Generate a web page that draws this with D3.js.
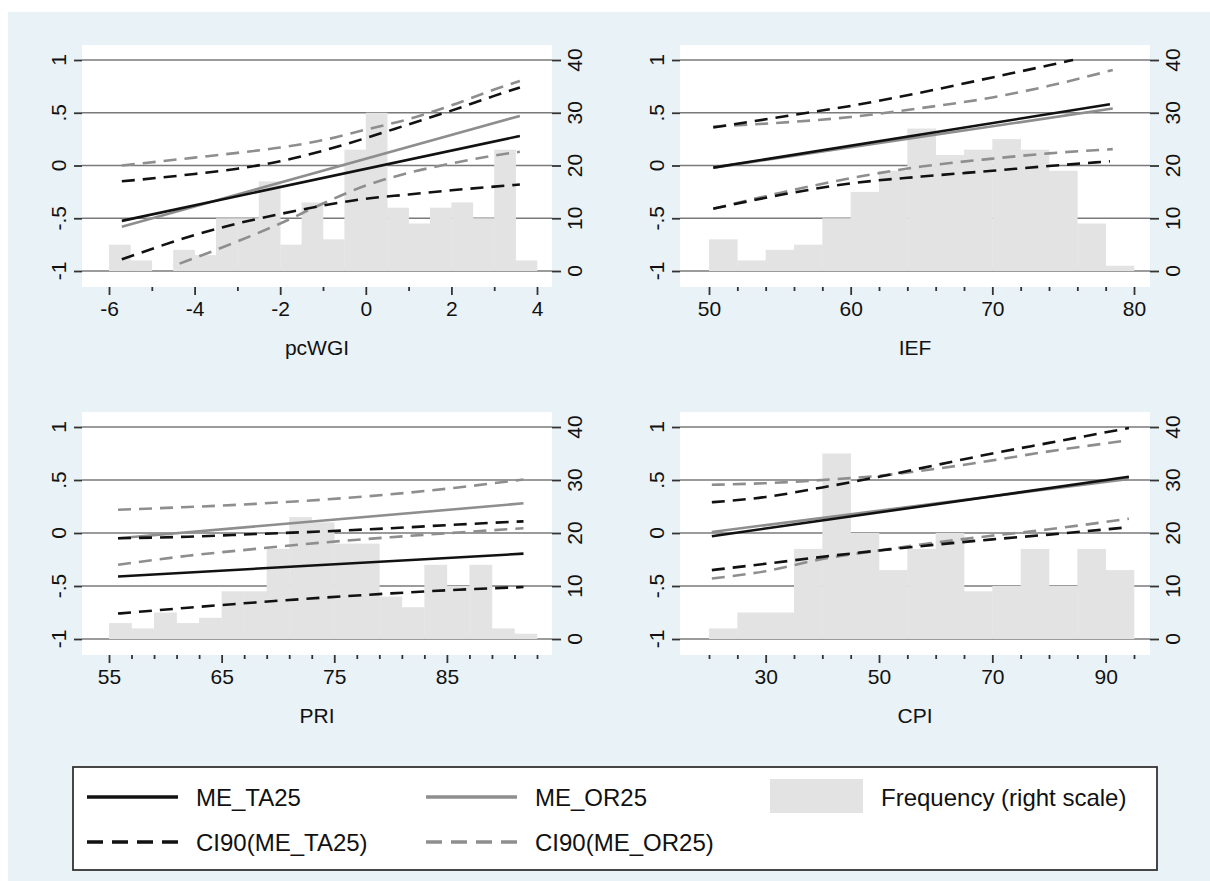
<!DOCTYPE html>
<html><head><meta charset="utf-8">
<script src="https://cdn.jsdelivr.net/npm/d3@7"></script>
<style>
html,body{margin:0;padding:0;background:#fff;}
svg{display:block;font-family:"Liberation Sans",Arial,sans-serif;}
</style></head>
<body>
<svg id="chart" width="1210" height="881"></svg>
<script>
// ---------------- DATA ----------------
const seriesNames = ["ME_TA25","ME_OR25","Frequency (right scale)","CI90(ME_TA25)","CI90(ME_OR25)"];
const panelTitles = ["pcWGI","IEF","PRI","CPI"];
const yLeftTicks = [-1,-0.5,0,0.5,1];
const yRightTicks = [0,10,20,30,40];

// pcWGI
const wgiBins = [-6,4,0.5];
const wgiCounts = [5,2,0,4,3,10,10,17,5,13,6,23,30,12,9,12,13,10,23,2];
const wgiMajor = [-6,-4,-2,0,2,4];
const wgiMinor = [-5,-3,-1,1,3];
const wgiMeTA = [[-5.7,-0.525],[3.6,0.28]];
const wgiMeOR = [[-5.7,-0.58],[3.6,0.47]];
const wgiCiTAup = [[-5.7,-0.15],[-4,-0.08],[-3,-0.03],[-2,0.04],[-1,0.14],[0,0.26],[1,0.39],[2,0.52],[3,0.66],[3.6,0.74]];
const wgiCiTAlo = [[-5.7,-0.89],[-4,-0.66],[-3,-0.55],[-2,-0.46],[-1,-0.38],[0,-0.315],[1,-0.275],[2,-0.235],[3,-0.2],[3.6,-0.18]];
const wgiCiORup = [[-5.7,0.0],[-4,0.075],[-3,0.12],[-2,0.17],[-1,0.24],[0,0.34],[1,0.44],[2,0.57],[3,0.72],[3.6,0.80]];
const wgiCiORlo = [[-4.35,-0.93],[-3,-0.72],[-2,-0.55],[-1,-0.36],[0,-0.19],[1,-0.07],[2,0.02],[3,0.095],[3.6,0.13]];

// IEF
const iefBins = [50,80,2];
const iefCounts = [6,2,4,5,10,15,19,27,22,23,25,23,19,9,1];
const iefMajor = [50,60,70,80];
const iefMinor = [52,54,56,58,62,64,66,68,72,74,76,78];
const iefMeTA = [[50.3,-0.02],[78.3,0.58]];
const iefMeOR = [[50.3,-0.02],[78.5,0.54]];
const iefCiTAup = [[50.3,0.36],[56,0.48],[60,0.565],[66,0.72],[70,0.835],[74,0.95],[75.7,1.0]];
const iefCiTAlo = [[50.3,-0.41],[55,-0.28],[60,-0.17],[65,-0.105],[70,-0.05],[74,-0.005],[78.3,0.04]];
const iefCiORup = [[50.3,0.37],[55,0.405],[60,0.46],[65,0.545],[70,0.645],[74,0.755],[78.5,0.905]];
const iefCiORlo = [[50.3,-0.41],[55,-0.26],[60,-0.12],[65,-0.01],[70,0.065],[74,0.115],[78.5,0.155]];

// PRI
const priBins = [55,93,2];
const priCounts = [3,2,5,3,4,9,9,17,23,22,18,18,8,6,14,10,14,2,1];
const priMajor = [55,65,75,85];
const priMinor = [57,59,61,63,67,69,71,73,77,79,81,83,87,89,91,93];
const priMeTA = [[55.8,-0.41],[91.8,-0.195]];
const priMeOR = [[55.8,-0.05],[91.8,0.28]];
const priCiTAup = [[55.8,-0.05],[62,-0.035],[68,-0.01],[74,0.015],[80,0.045],[86,0.08],[91.8,0.11]];
const priCiTAlo = [[55.8,-0.76],[62,-0.705],[68,-0.655],[74,-0.61],[80,-0.57],[86,-0.535],[91.8,-0.51]];
const priCiORup = [[55.8,0.22],[62,0.245],[68,0.275],[74,0.315],[80,0.365],[86,0.43],[91.8,0.505]];
const priCiORlo = [[55.8,-0.30],[62,-0.215],[68,-0.15],[74,-0.09],[80,-0.04],[86,0.005],[91.8,0.045]];

// CPI
const cpiBins = [20,95,5];
const cpiCounts = [2,5,5,17,35,20,13,17,20,9,10,17,10,17,13];
const cpiMajor = [30,50,70,90];
const cpiMinor = [20,25,35,40,45,55,60,65,75,80,85,95];
const cpiMeTA = [[20.5,-0.03],[94.1,0.53]];
const cpiMeOR = [[20.5,0.01],[94.1,0.51]];
const cpiCiTAup = [[20.5,0.29],[30,0.34],[40,0.43],[50,0.53],[60,0.64],[70,0.75],[80,0.85],[94.1,0.99]];
const cpiCiTAlo = [[20.5,-0.35],[30,-0.29],[40,-0.225],[50,-0.165],[60,-0.11],[70,-0.06],[80,-0.015],[94.1,0.055]];
const cpiCiORup = [[20.5,0.455],[30,0.47],[40,0.50],[50,0.54],[60,0.605],[70,0.685],[80,0.77],[94.1,0.875]];
const cpiCiORlo = [[20.5,-0.43],[30,-0.36],[40,-0.245],[50,-0.165],[60,-0.09],[70,-0.025],[80,0.035],[94.1,0.135]];

// ---------------- STYLE / LAYOUT ----------------
const C = {bg:"#e9f2f6", plot:"#ffffff", grid:"#7a7a7a", tick:"#333333", bar:"#e3e3e3",
           black:"#111111", gray:"#8e8e8e", text:"#111111"};
const panels = [
  {title:panelTitles[0], bins:wgiBins, counts:wgiCounts, major:wgiMajor, minor:wgiMinor,
   meTA:wgiMeTA, meOR:wgiMeOR, ciTAup:wgiCiTAup, ciTAlo:wgiCiTAlo, ciORup:wgiCiORup, ciORlo:wgiCiORlo,
   box:[82,45,552,287], xr:[109,537], yr:[271,60]},
  {title:panelTitles[1], bins:iefBins, counts:iefCounts, major:iefMajor, minor:iefMinor,
   meTA:iefMeTA, meOR:iefMeOR, ciTAup:iefCiTAup, ciTAlo:iefCiTAlo, ciORup:iefCiORup, ciORlo:iefCiORlo,
   box:[680,45,1150,287], xr:[709,1134], yr:[271,60]},
  {title:panelTitles[2], bins:priBins, counts:priCounts, major:priMajor, minor:priMinor,
   meTA:priMeTA, meOR:priMeOR, ciTAup:priCiTAup, ciTAlo:priCiTAlo, ciORup:priCiORup, ciORlo:priCiORlo,
   box:[82,412,552,655], xr:[109,537], yr:[639,427]},
  {title:panelTitles[3], bins:cpiBins, counts:cpiCounts, major:cpiMajor, minor:cpiMinor,
   meTA:cpiMeTA, meOR:cpiMeOR, ciTAup:cpiCiTAup, ciTAlo:cpiCiTAlo, ciORup:cpiCiORup, ciORlo:cpiCiORlo,
   box:[680,412,1150,655], xr:[709,1134], yr:[639,427]}
];

const svg = d3.select("#chart");
svg.append("rect").attr("x",8).attr("y",12).attr("width",1202).attr("height",869).attr("fill",C.bg);

const fmtY = v => String(v).replace("0.", ".");

panels.forEach(p => {
  const [bx0,by0,bx1,by1] = p.box;
  const x = d3.scaleLinear().domain([p.bins[0], p.bins[1]]).range(p.xr);
  const y = d3.scaleLinear().domain([-1,1]).range(p.yr);
  const yc = d3.scaleLinear().domain([0,40]).range(p.yr);
  const g = svg.append("g");

  g.append("rect").attr("x",bx0).attr("y",by0).attr("width",bx1-bx0).attr("height",by1-by0).attr("fill",C.plot);

  // gridlines
  g.selectAll(".grid").data(yLeftTicks).join("line")
    .attr("x1",bx0).attr("x2",bx1).attr("y1",d=>y(d)).attr("y2",d=>y(d))
    .attr("stroke",C.grid).attr("stroke-width",1.7);

  // left axis ticks
  const yl = g.append("g").attr("transform",`translate(${bx0},0)`)
    .call(d3.axisLeft(y).tickValues(yLeftTicks).tickSize(8).tickFormat(""));
  yl.select(".domain").remove();
  yl.selectAll(".tick line").attr("stroke",C.tick).attr("stroke-width",1.8);
  g.selectAll(".ylab").data(yLeftTicks).join("text")
    .attr("transform",d=>`translate(${bx0-24},${y(d)}) rotate(-90)`)
    .attr("text-anchor","middle").attr("dominant-baseline","central")
    .attr("font-size",21).attr("fill",C.text).text(fmtY);

  // right axis ticks
  const yr = g.append("g").attr("transform",`translate(${bx1},0)`)
    .call(d3.axisRight(yc).tickValues(yRightTicks).tickSize(9).tickFormat(""));
  yr.select(".domain").remove();
  yr.selectAll(".tick line").attr("stroke",C.tick).attr("stroke-width",1.8);
  g.selectAll(".yrlab").data(yRightTicks).join("text")
    .attr("transform",d=>`translate(${bx1+22},${yc(d)}) rotate(-90)`)
    .attr("text-anchor","middle").attr("dominant-baseline","central")
    .attr("font-size",21).attr("fill",C.text).text(d=>d);

  // x axis
  const xa = g.append("g").attr("transform",`translate(0,${by1})`)
    .call(d3.axisBottom(x).tickValues(p.major).tickSize(8).tickPadding(6).tickFormat(d=>d));
  xa.select(".domain").remove();
  xa.selectAll(".tick line").attr("stroke",C.tick).attr("stroke-width",1.8);
  xa.selectAll(".tick text").attr("font-size",21).attr("fill",C.text)
    .attr("font-family",'"Liberation Sans",Arial,sans-serif');
  const xm = g.append("g").attr("transform",`translate(0,${by1})`)
    .call(d3.axisBottom(x).tickValues(p.minor).tickSize(4).tickFormat(""));
  xm.select(".domain").remove();
  xm.selectAll(".tick line").attr("stroke",C.tick).attr("stroke-width",1.8);

  // axis title
  g.append("text").attr("x",(bx0+bx1)/2).attr("y",by1+68).attr("text-anchor","middle")
    .attr("font-size",21).attr("fill",C.text).text(p.title);

  // histogram
  const [b0,,bw] = p.bins;
  g.selectAll(".bar").data(p.counts).join("rect")
    .attr("x",(d,i)=>x(b0+i*bw)).attr("width",(d,i)=>x(b0+(i+1)*bw)-x(b0+i*bw)+0.3)
    .attr("y",d=>yc(d)).attr("height",d=>yc(0)-yc(d))
    .attr("fill",C.bar);

  // lines
  const line = d3.line().x(d=>x(d[0])).y(d=>y(d[1])).curve(d3.curveMonotoneX);
  const draw = (data,color,dash) => g.append("path").datum(data).attr("d",line)
    .attr("fill","none").attr("stroke",color).attr("stroke-width",2.6)
    .attr("stroke-dasharray",dash||null);
  draw(p.ciORup,C.gray,"13,8");
  draw(p.ciORlo,C.gray,"13,8");
  draw(p.meOR,C.gray);
  draw(p.ciTAup,C.black,"13,8");
  draw(p.ciTAlo,C.black,"13,8");
  draw(p.meTA,C.black);
});

// legend
const lg = svg.append("g");
lg.append("rect").attr("x",73).attr("y",767).attr("width",1084).attr("height",103)
  .attr("fill","#fff").attr("stroke","#333").attr("stroke-width",1.8);
const legendItems = [
  {name:seriesNames[0], type:"line", color:C.black, dash:null, x:87, y:797},
  {name:seriesNames[1], type:"line", color:C.gray, dash:null, x:426, y:797},
  {name:seriesNames[2], type:"rect", color:C.bar, x:770, y:797},
  {name:seriesNames[3], type:"line", color:C.black, dash:"16,9", x:87, y:842},
  {name:seriesNames[4], type:"line", color:C.gray, dash:"16,9", x:426, y:842}
];
legendItems.forEach(it => {
  if (it.type === "line") {
    lg.append("line").attr("x1",it.x).attr("x2",it.x+91).attr("y1",it.y).attr("y2",it.y)
      .attr("stroke",it.color).attr("stroke-width",3.6).attr("stroke-dasharray",it.dash);
    lg.append("text").attr("x",it.x+109).attr("y",it.y).attr("dominant-baseline","central")
      .attr("font-size",24).attr("fill",C.text).text(it.name);
  } else {
    lg.append("rect").attr("x",it.x).attr("y",it.y-18).attr("width",93).attr("height",34).attr("fill",it.color);
    lg.append("text").attr("x",it.x+111).attr("y",it.y).attr("dominant-baseline","central")
      .attr("font-size",24).attr("fill",C.text).text(it.name);
  }
});
</script>
</body></html>
